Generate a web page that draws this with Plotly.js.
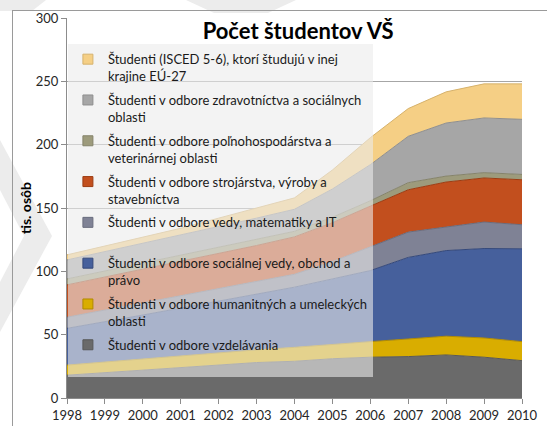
<!DOCTYPE html>
<html><head><meta charset="utf-8">
<script src="https://cdn.plot.ly/plotly-3.0.1.min.js"></script>
<style>
html,body{margin:0;padding:0;background:#fff;overflow:hidden}
#wrap{position:relative;width:547px;height:426px;overflow:hidden}
#bg{position:absolute;left:0;top:0}
#frame{position:absolute;left:12px;top:10px;width:700px;height:600px;border-left:1px solid #9a9a9a;border-top:1px solid #9a9a9a}
#chart{position:absolute;left:0;top:0;width:547px;height:426px}
</style></head>
<body><div id="wrap">
<svg id="bg" width="547" height="426">
 <polygon points="0,0 46,0 32,11 0,11" fill="#ececec"/>
 <polygon points="186,0 296,0 268,13 214,13" fill="#ececec"/>
 <polygon points="0,140 52,236 0,332 0,282 24,236 0,190" fill="#ececec"/>
</svg>
<div id="frame"></div>
<div id="chart"></div>
</div>
<script>
// ---- data (thousands of persons) ----
const years = [1998,1999,2000,2001,2002,2003,2004,2005,2006,2007,2008,2009,2010];
const yearLabels = ['1998','1999','2000','2001','2002','2003','2004','2005','2006','2007','2008','2009','2010'];
const vzdelavanie   = [18, 20, 22, 24, 26, 28, 29, 31, 32.2, 32.7, 34, 32.2, 29.5];
const humanitne     = [8, 8.5, 9, 9.5, 10, 10, 11, 11.5, 12.3, 13.9, 14.8, 15.2, 15];
const socialne      = [29, 31.5, 34.5, 37.5, 40.5, 44, 47.5, 51.5, 56.1, 64.4, 67.6, 70.6, 73.3];
const vedy          = [8.8, 9.4, 9.4, 9.5, 9.5, 9.6, 10.2, 13.7, 18.8, 20, 18.6, 20.9, 19];
const strojarstvo   = [25.5, 26.1, 26.8, 27.5, 28.2, 28.8, 29.5, 30.7, 32.1, 33.4, 35.5, 34.8, 35.5];
const polnohosp     = [4.7, 4.7, 4.6, 4.5, 4.5, 4.5, 4.4, 4.3, 4.2, 5.6, 4.7, 4.2, 4.2];
const zdravotnictvo = [15, 15.3, 15.7, 16, 16.3, 17.1, 17.4, 22.3, 28.5, 36.6, 41.9, 43.2, 43.5];
const zahranicie    = [4, 4.5, 5, 5.5, 7, 8, 9, 15, 21.3, 21.9, 24.6, 26.9, 28];

const seriesNames = [
  'Študenti v odbore vzdelávania<br>\u00a0',
  'Študenti v odbore humanitných a umeleckých<br>oblasti',
  'Študenti v odbore sociálnej vedy, obchod a<br>právo',
  'Študenti v odbore vedy, matematiky a IT<br>\u00a0',
  'Študenti v odbore strojárstva, výroby a<br>stavebníctva',
  'Študenti v odbore poľnohospodárstva a<br>veterinárnej oblasti',
  'Študenti v odbore zdravotníctva a sociálnych<br>oblasti',
  'Študenti (ISCED 5-6), ktorí študujú v inej<br>krajine EÚ-27'
];
const seriesValues = [vzdelavanie, humanitne, socialne, vedy, strojarstvo, polnohosp, zdravotnictvo, zahranicie];
const fillColors = ['#6a6a6a','#d9ad00','#46609c','#7f8295','#c24f1e','#9d9b7c','#a6a6a6','#f5cf85'];
const lineColors = ['#585858','#b08a00','#34487a','#696c7e','#9c3c12','#85836a','#8f8f8f','#d6b26c'];

const traces = [];
// stacked areas, bottom to top
seriesValues.forEach((vals, i) => {
  traces.push({
    type:'scatter', mode:'lines', x:years, y:vals, stackgroup:'one',
    name:seriesNames[i], showlegend:false,
    line:{color:lineColors[i], width:1}, fillcolor:fillColors[i],
    hoverinfo:'x+y'
  });
});
// legend keys (square swatches), top entry = top layer
for (let i = seriesValues.length - 1; i >= 0; i--) {
  traces.push({
    type:'scatter', mode:'markers', x:[null], y:[null],
    name:seriesNames[i], legendgroup:'k'+i, showlegend:true,
    marker:{symbol:'square', size:10, color:fillColors[i], line:{color:lineColors[i], width:1}}
  });
}

const layout = {
  width:547, height:426,
  margin:{l:67, r:25, t:18, b:27.5, pad:0},
  paper_bgcolor:'rgba(0,0,0,0)', plot_bgcolor:'#ffffff',
  font:{family:'Lato, sans-serif', size:13, color:'#262626'},
  title:{text:'<b>Počet študentov VŠ</b>', font:{size:22, color:'#000000', family:'Lato, sans-serif'},
         x:0.508, xref:'paper', xanchor:'center', y:0.927, yref:'container', yanchor:'middle'},
  xaxis:{range:[1998,2010], tickmode:'array', tickvals:years, ticktext:yearLabels,
         ticks:'outside', ticklen:5, tickcolor:'#8c8c8c', showline:true, linecolor:'#8c8c8c',
         showgrid:false, zeroline:false, fixedrange:true, tickfont:{size:13, color:'#262626'}},
  yaxis:{range:[0,300], tickmode:'linear', tick0:0, dtick:50, ticks:'outside', ticklen:5,
         tickcolor:'#8c8c8c', showline:true, linecolor:'#8c8c8c', showgrid:true,
         gridcolor:'#a6a6a6', gridwidth:1, zeroline:false, fixedrange:true,
         tickfont:{size:13, color:'#262626'},
         title:{text:'<b>tis. osôb</b>', font:{size:14, color:'#000000'}, standoff:0}},
  showlegend:true,
  legend:{x:0.002, xanchor:'left', y:0.931, yanchor:'top', xref:'paper', yref:'paper',
          bgcolor:'rgba(235,235,235,0.6)', borderwidth:0,
          font:{size:13, color:'#1a1a1a'}, traceorder:'grouped', tracegroupgap:4, valign:'top'}
};

Plotly.newPlot('chart', traces, layout, {displayModeBar:false, staticPlot:true});
</script>
</body></html>
